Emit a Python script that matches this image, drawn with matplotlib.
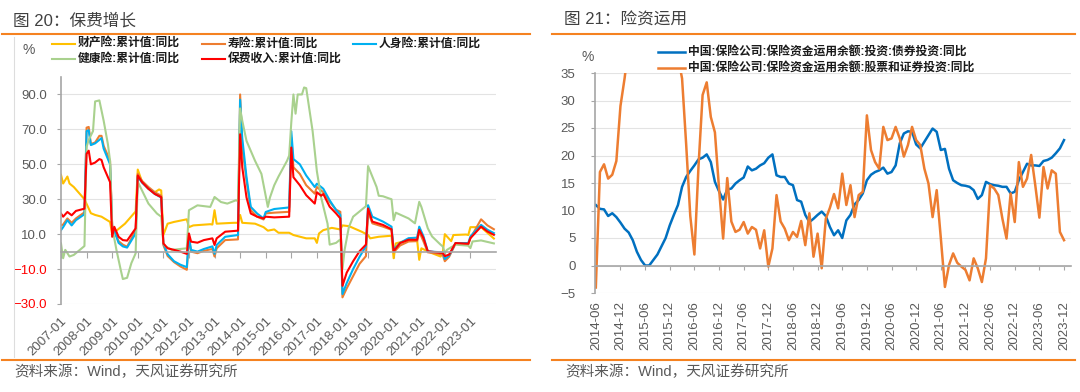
import matplotlib
matplotlib.use("Agg")
from matplotlib import pyplot as plt
from matplotlib.lines import Line2D
import numpy as np
import pandas as pd

plt.rcParams["font.family"] = ["Liberation Sans", "Noto Sans CJK SC"]
plt.rcParams["axes.unicode_minus"] = True

# ---------------- 图20 data (cumulative YoY, %) ----------------
life_dates = ["2007-01", "2007-02", "2007-04", "2007-06", "2007-08", "2007-12",
              "2008-01", "2008-02", "2008-03", "2008-05", "2008-07", "2008-08", "2008-09", "2008-12",
              "2009-01", "2009-02", "2009-04", "2009-06", "2009-08", "2009-12",
              "2010-01", "2010-03", "2010-06", "2010-09", "2010-12",
              "2011-01", "2011-03", "2011-06", "2011-09", "2011-12",
              "2012-01", "2012-02", "2012-05", "2012-08", "2012-12",
              "2013-01", "2013-02", "2013-06", "2013-12",
              "2014-01", "2014-02", "2014-04", "2014-06", "2014-09", "2014-12",
              "2015-01", "2015-05", "2015-12",
              "2016-01", "2016-02", "2016-05", "2016-08", "2016-12",
              "2017-01", "2017-03", "2017-04", "2017-07", "2017-10", "2017-12",
              "2018-01", "2018-03", "2018-06", "2018-09", "2018-12",
              "2019-01", "2019-03", "2019-08", "2019-12",
              "2020-01", "2020-04", "2020-08", "2020-12",
              "2021-01", "2021-03", "2021-05", "2021-09", "2021-12",
              "2022-01", "2022-03", "2022-06", "2022-12",
              "2023-01", "2023-06", "2023-09", "2023-12"]

shouxian = [15, 15.5, 19, 16.5, 19, 22.5,
            71, 71.4, 61.6, 62.5, 66.3, 66.3, 60.6, 52,
            15, 12, 6, 4, 2.8, 12.3,
            44.5, 40.5, 37, 34, 32,
            3.8, -2.5, -6, -8.5, -10.4,
            7.6, 0, -0.9, 0.5, 1.5,
            -2.8, 1.9, 6.6, 7,
            90, 60, 40.7, 23.7, 20, 18.4,
            21.9, 22.3, 22.8,
            65.3, 48.3, 44.5, 38, 33.2,
            37, 35, 34, 28.5, 24, 22.8,
            -26.2, -21, -14, -7, -2.6,
            22.8, 16.2, 14.3, 12.5,
            -0.4, 3.5, 5.8, 6,
            11.5, 5.8, -0.4, -1, -1.7,
            -5.5, -3, 4.5, 4,
            7.7, 18.5, 15, 12.8]

renshen = [12.3, 14, 18, 15, 18, 21.4,
           69, 69.5, 61, 62, 64, 65, 59, 50,
           14.2, 12, 5, 3, 2.3, 10.4,
           43, 39.5, 36, 33, 31,
           4.7, -1.5, -5.5, -7.5, -8.9,
           8.5, 1, 0, 1.5, 3,
           -1.3, 3.8, 8.5, 9.5,
           87, 65, 42.6, 25.6, 21.8, 19,
           22.7, 24.4, 25.3,
           69, 53, 50, 43.6, 37,
           38.9, 37, 36, 29.4, 23.8, 21,
           -24.3, -18, -10, -3, 3,
           26.6, 20, 17.2, 14.3,
           1, 5, 7.7, 8,
           14.3, 8.7, 0.2, -0.2, -0.4,
           -4.2, -2.3, 4.9, 4.9,
           8.7, 15.3, 12.5, 10.6]

baofei = [21.8, 20, 22.7, 20.8, 23.3, 24.6,
          56, 57.8, 50, 51, 53, 52.5, 48.3, 39.8,
          8.5, 14.2, 8.5, 6.6, 6.3, 13.3,
          43.6, 39.8, 36, 33, 31.2,
          4.7, 1.9, 1, 0, -1.3,
          10.4, 5.7, 5.1, 6.6, 7.6,
          3.8, 7.6, 11.4, 12,
          67.2, 48.3, 31, 21.8, 20, 19,
          20, 19.6, 20,
          59.6, 42.6, 38, 32.3, 27.5,
          34, 32, 33, 25.7, 21.9, 19,
          -19.6, -12, -5.5, 0.2, 4,
          24.7, 17.2, 15.3, 12.8,
          0.2, 4.9, 6.8, 6.8,
          12.5, 7.7, 0.2, -0.4, -0.8,
          -2.6, -1.7, 4.9, 4.5,
          7.7, 14.3, 11.5, 9.6]

health_dates = ["2007-01", "2007-02", "2007-03", "2007-05", "2007-07", "2007-12",
                "2008-01", "2008-02", "2008-04", "2008-05", "2008-07", "2008-09", "2008-11", "2008-12",
                "2009-01", "2009-03", "2009-05", "2009-06", "2009-08", "2009-10", "2009-12",
                "2010-01", "2010-06", "2010-10", "2010-12",
                "2011-01", "2011-02", "2011-05", "2011-12",
                "2012-01", "2012-05", "2012-11",
                "2013-01", "2013-04", "2013-07", "2013-11", "2013-12",
                "2014-01", "2014-02", "2014-04", "2014-08", "2014-11",
                "2015-02", "2015-03", "2015-05", "2015-07", "2015-11", "2015-12",
                "2016-01", "2016-02", "2016-03", "2016-04", "2016-06", "2016-07", "2016-08", "2016-11",
                "2017-01", "2017-03", "2017-06", "2017-07", "2017-10", "2017-12",
                "2018-01", "2018-02", "2018-04", "2018-06", "2018-10", "2018-12",
                "2019-01", "2019-05", "2019-06", "2019-08", "2019-11", "2019-12",
                "2020-01", "2020-02", "2020-08", "2020-11",
                "2021-01", "2021-02", "2021-05", "2021-07", "2021-11", "2021-12",
                "2022-01", "2022-02", "2022-06", "2022-12",
                "2023-01", "2023-02", "2023-06", "2023-12"]
jiankang = [4.7, -3.8, 1, -2.8, -1.9, 3.2,
            60, 64, 69, 86, 86.6, 75, 61.5, 52,
            14, 1, -10.4, -15.7, -15, -6.6, -1,
            40, 27.5, 21.8, 20,
            4.7, 3, 1, 1.9,
            23.7, 26.5, 25.6,
            31.3, 28.4, 27.5, 29.4, 29,
            82, 75, 63.4, 52, 44.5,
            25.6, 31, 38, 43, 52, 55,
            74, 90, 79, 90, 90, 94, 93.6, 69,
            46, 31, 16, 4, 5, 7,
            -10, 1, 14, 20, 24, 26,
            49, 37, 32, 31.7, 30.4, 30,
            18, 22.3, 19, 16.2,
            28.5, 25.6, 13.4, 8.7, 4, 3,
            -0.8, 1, 4, 3.4,
            2, 5.8, 6.4, 4.7]

property_dates = ["2007-01", "2007-02", "2007-04", "2007-05", "2007-07", "2007-12",
                  "2008-03", "2008-05", "2008-08", "2008-12",
                  "2009-01", "2009-02", "2009-07", "2009-12",
                  "2010-01", "2010-03", "2010-06", "2010-09", "2010-11", "2010-12",
                  "2011-01", "2011-03", "2011-06", "2011-12",
                  "2012-01", "2012-03", "2012-11", "2012-12",
                  "2013-01", "2013-02", "2013-10", "2013-12",
                  "2014-01", "2014-02", "2014-08", "2014-12",
                  "2015-02", "2015-05", "2015-07", "2015-12",
                  "2016-02", "2016-08", "2016-12",
                  "2017-01", "2017-02", "2017-04", "2017-08", "2017-12",
                  "2018-01", "2018-04", "2018-10",
                  "2019-01", "2019-02", "2019-06", "2019-12",
                  "2020-01", "2020-02", "2020-08", "2020-12",
                  "2021-01", "2021-02", "2021-07", "2021-11", "2021-12",
                  "2022-01", "2022-04", "2022-05", "2022-11", "2022-12",
                  "2023-01", "2023-06", "2023-12"]
caichan = [44, 39, 43, 39, 37, 30,
           22, 21, 20, 17,
           10, 11, 16, 23,
           47, 40, 36, 34, 35.6, 35,
           9.5, 16, 17, 18.5,
           14, 15, 15.7, 15.5,
           23.7, 16, 16.5, 16.5,
           21, 16.5, 16, 14,
           12, 12.7, 10.8, 10.8,
           9.5, 7.6, 7.6,
           5, 10.4, 12.3, 13.6, 12.7,
           15, 14.6, 11.4,
           9.5, 7.6, 8.5, 9.1,
           -3.8, 4.7, 6.6, 6.6,
           -4.7, 1.9, -0.9, -2.8, -1,
           10, 6, 9.5, 9.8, 9.5,
           14, 14, 7.5]

left_ticks = ["2007-01", "2008-01", "2009-01", "2010-01", "2011-01", "2012-01", "2013-01",
              "2014-01", "2015-01", "2016-01", "2017-01", "2018-01", "2019-01", "2020-01",
              "2021-01", "2022-01", "2023-01"]

# ---------------- 图21 data (YoY, %), monthly 2014-06 .. 2023-12 ----------------
right_start, right_end = "2014-06", "2023-12"
bond_yoy = [11, 10.3, 10.2, 9, 9.5, 8.8, 7.8, 6.7, 6, 4.6, 2.5, 1, 0, 0, 1, 2, 3.5, 5, 7.3, 9.2,
            11, 14.3, 16.1, 17.2, 18.2, 19.3, 19.6, 20.2, 18.8, 15.2, 13.5, 12, 13.8, 14, 14.9, 15.5,
            16, 18, 17.3, 17.6, 18.2, 18.6, 19.6, 20.2, 16.4, 16.1, 16.1, 14.9, 14.6, 11.9, 11.6, 9.2,
            7.9, 8.5, 9.2, 9.8, 9, 7, 5.5, 6.4, 5, 8.2, 9.2, 11.1, 11.9, 13.1, 15.5, 16.5, 17, 17.3,
            17.8, 16.7, 17, 18.2, 22.2, 24, 24.4, 24.3, 22, 21.3, 22.5, 23.7, 24.9, 24.3, 21, 21.2,
            17.6, 15.5, 15, 14.6, 14.5, 14.3, 13.7, 12.1, 12.8, 15.2, 14.8, 14.6, 14.5, 14.3, 14.3,
            13.1, 13.4, 15.5, 17, 18.5, 18.2, 18.2, 18.1, 19, 19.2, 19.6, 20.4, 21.3, 22.8]
stock_yoy = [-4, 17, 18.4, 15.8, 16.5, 19, 29, 34, 40, 46, 52, 57, 60, 62, 61, 58, 54, 50, 46, 42,
             38, 34, 22, 9, 2, 18, 31, 33.3, 27, 24.2, 14, 4.9, 15.9, 8, 6.1, 6.5, 7.9, 5.8, 7, 6.5,
             3.1, 6.4, -0.2, 3.1, 12.8, 8, 6.7, 4.6, 6.1, 5.2, 8.1, 3.7, 9.5, 1.6, 5.8, -0.5, 8.5,
             10.5, 13, 10.4, 16.7, 11, 14.6, 8.8, 12.8, 13.4, 27.3, 21, 18.8, 17.6, 25.2, 22.8, 23.1,
             25.2, 23.1, 19.8, 21.9, 25.2, 22.8, 21.9, 17.6, 14.9, 8.8, 13.7, 5, -3.9, 0.1, 2.2, 0.5,
             -0.2, -0.8, -2.7, 1.3, -0.5, -3, 1.3, 14.6, 14, 12.8, 8.5, 4.9, 13.1, 7.9, 18.8, 14.3,
             15.8, 20.1, 14.6, 8.7, 17.9, 14, 17.3, 16.7, 6.1, 4.6]


def months_from(dates, start):
    y0, m0 = int(start[:4]), int(start[5:7])
    return np.array([(int(d[:4]) - y0) * 12 + int(d[5:7]) - m0 for d in dates])


W, H = 1080, 392


def fx(px):
    return px / W


def fy(py):
    return 1 - py / H


fig = plt.figure(figsize=(W / 100, H / 100), dpi=100)
grey = "#A6A6A6"
txt = "#595959"
orange_rule = "#F58220"


def fmt(v, dec):
    s = f"{abs(v):.{dec}f}"
    return ("\u2212" + s) if v < 0 else s


# ---------------- left panel ----------------
ax1 = fig.add_axes([fx(61), fy(304), fx(496) - fx(61), fy(77) - fy(304)])
ax1.plot(months_from(property_dates, "2007-01"), caichan, color="#FFC000", lw=1.5)
ax1.plot(months_from(life_dates, "2007-01"), shouxian, color="#ED7D31", lw=1.5)
ax1.plot(months_from(life_dates, "2007-01"), renshen, color="#00B0F0", lw=1.5)
ax1.plot(months_from(health_dates, "2007-01"), jiankang, color="#A9D18E", lw=1.5)
ax1.plot(months_from(life_dates, "2007-01"), baofei, color="#FF0000", lw=1.5)
ax1.set_xlim(0, 204)
ax1.set_ylim(-30, 100)
yt = [-30, -10, 10, 30, 50, 70, 90]
ax1.set_yticks(yt, [fmt(v, 1) for v in yt])
for lab, v in zip(ax1.get_yticklabels(), yt):
    lab.set_color("#FF0000" if v < 0 else txt)
ax1.tick_params(axis="y", length=3, color=grey, pad=7, labelsize=9.5)
ax1.yaxis.grid(True, color="#E3E3E3", lw=0.8)
ax1.set_axisbelow(True)
for s in ["top", "right"]:
    ax1.spines[s].set_visible(False)
ax1.spines["left"].set_color(grey)
ax1.spines["left"].set_linewidth(1.2)
ax1.spines["bottom"].set_position(("data", 0))
ax1.spines["bottom"].set_color(grey)
ax1.spines["bottom"].set_linewidth(1.2)
lt = months_from(left_ticks, "2007-01")
ax1.set_xticks(lt)
ax1.tick_params(axis="x", length=4, color=grey, labelbottom=False)
sec1 = ax1.secondary_xaxis("bottom")
sec1.set_xticks(lt, left_ticks)
sec1.spines["bottom"].set_visible(False)
sec1.tick_params(length=0, pad=8, labelsize=9.5, labelcolor=txt)
for lab in sec1.get_xticklabels():
    lab.set_rotation(45)
    lab.set_ha("right")
    lab.set_rotation_mode("anchor")

# ---------------- right panel ----------------
ax2 = fig.add_axes([fx(595), fy(293), fx(1071) - fx(595), fy(73) - fy(293)])
rk = np.arange(len(bond_yoy))
ax2.plot(rk, bond_yoy, color="#0070C0", lw=1.8)
ax2.plot(rk, stock_yoy, color="#ED7D31", lw=1.8)
ax2.set_xlim(-0.2, 115.7)
ax2.set_ylim(-5, 35)
yt2 = list(range(-5, 40, 5))
ax2.set_yticks(yt2, [fmt(v, 0) for v in yt2])
ax2.tick_params(axis="y", length=3, color=grey, pad=11, labelsize=9.5, labelcolor=txt)
ax2.yaxis.grid(True, color="#E3E3E3", lw=0.8)
ax2.set_axisbelow(True)
for s in ["top", "right"]:
    ax2.spines[s].set_visible(False)
ax2.spines["left"].set_color(grey)
ax2.spines["left"].set_linewidth(1.2)
ax2.spines["bottom"].set_position(("data", 0))
ax2.spines["bottom"].set_color(grey)
ax2.spines["bottom"].set_linewidth(1.2)
right_ticks = [str(p) for p in pd.period_range(right_start, right_end, freq="6M")]
rt = months_from(right_ticks, right_start)
ax2.set_xticks(rt)
ax2.tick_params(axis="x", length=3, color=grey, labelbottom=False)
sec2 = ax2.secondary_xaxis("bottom")
sec2.set_xticks(rt, right_ticks)
sec2.spines["bottom"].set_visible(False)
sec2.tick_params(length=0, pad=6, labelsize=9.5, labelcolor=txt, rotation=90)

# ---------------- frame, titles, legends ----------------
def hline(x0, x1, y, color, lw):
    fig.add_artist(Line2D([fx(x0), fx(x1)], [fy(y), fy(y)], color=color, lw=lw,
                          transform=fig.transFigure))


for x0, x1 in [(2, 530), (552, 1075)]:
    hline(x0, x1, 34, orange_rule, 1.5)
    hline(x0, x1, 360, orange_rule, 1.5)
fig.add_artist(Line2D([fx(14), fx(14)], [fy(37), fy(357)], color="#DDDDDD", lw=0.8,
                      transform=fig.transFigure))

fig.text(fx(13), fy(20.5), "图 20：保费增长", fontsize=12, color="#404040", va="center")
fig.text(fx(564), fy(20.5), "图 21：险资运用", fontsize=12, color="#404040", va="center")
fig.text(fx(14), fy(372), "资料来源：Wind，天风证券研究所", fontsize=10.5, color=txt, va="center")
fig.text(fx(565), fy(372), "资料来源：Wind，天风证券研究所", fontsize=10.5, color=txt, va="center")
fig.text(fx(29), fy(50), "%", fontsize=10, color=txt, ha="center", va="center")
fig.text(fx(588), fy(57), "%", fontsize=10, color=txt, ha="center", va="center")


def legend_entry(x0, y, color, label, hl, lw):
    hline(x0, x0 + hl, y, color, lw)
    fig.text(fx(x0 + hl + 3), fy(y), label, fontsize=8.5, fontweight="bold",
             color="#1A1A1A", va="center", ha="left")


legend_entry(52, 44, "#FFC000", "财产险:累计值:同比", 23, 1.5)
legend_entry(202, 44, "#ED7D31", "寿险:累计值:同比", 23, 1.5)
legend_entry(353, 44, "#00B0F0", "人身险:累计值:同比", 23, 1.5)
legend_entry(52, 59, "#A9D18E", "健康险:累计值:同比", 23, 1.5)
legend_entry(202, 59, "#FF0000", "保费收入:累计值:同比", 23, 1.5)
legend_entry(658, 52, "#0070C0", "中国:保险公司:保险资金运用余额:投资:债券投资:同比", 27, 1.8)
legend_entry(658, 68, "#ED7D31", "中国:保险公司:保险资金运用余额:股票和证券投资:同比", 27, 1.8)

fig.savefig("out.png", dpi=100)
